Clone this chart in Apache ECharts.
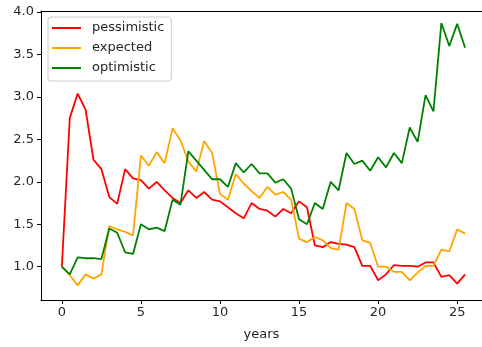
<!DOCTYPE html>
<html>
<head>
<meta charset="utf-8">
<script src="https://cdn.jsdelivr.net/npm/echarts@6/dist/echarts.min.js"></script>
<style>html,body{margin:0;padding:0;background:#fff;}#c{width:482px;height:347px;}</style>
</head>
<body>
<div id="c"></div>
<script>
const years = [0,0.5,1,1.5,2,2.5,3,3.5,4,4.5,5,5.5,6,6.5,7,7.5,8,8.5,9,9.5,10,10.5,11,11.5,12,12.5,13,13.5,14,14.5,15,15.5,16,16.5,17,17.5,18,18.5,19,19.5,20,20.5,21,21.5,22,22.5,23,23.5,24,24.5,25,25.5];
const pessimistic = [1.00,2.75,3.04,2.85,2.26,2.15,1.82,1.74,2.15,2.04,2.02,1.92,2.00,1.90,1.81,1.75,1.90,1.81,1.88,1.79,1.77,1.70,1.63,1.57,1.75,1.68,1.66,1.59,1.68,1.63,1.77,1.70,1.25,1.23,1.29,1.27,1.26,1.23,1.01,1.01,0.84,0.91,1.02,1.01,1.01,1.00,1.05,1.05,0.88,0.90,0.80,0.91];
const expected = [1.00,0.90,0.78,0.91,0.86,0.91,1.48,1.44,1.41,1.37,2.31,2.19,2.35,2.22,2.63,2.49,2.24,2.12,2.48,2.34,1.86,1.79,2.09,1.98,1.89,1.81,1.94,1.85,1.88,1.79,1.33,1.29,1.35,1.31,1.22,1.20,1.75,1.68,1.31,1.28,1.00,1.00,0.94,0.94,0.84,0.93,1.01,1.01,1.20,1.18,1.44,1.39];
const optimistic = [1.00,0.91,1.11,1.10,1.10,1.09,1.45,1.40,1.17,1.15,1.50,1.44,1.46,1.42,1.79,1.73,2.36,2.25,2.14,2.03,2.03,1.94,2.22,2.11,2.21,2.10,2.10,1.99,2.03,1.92,1.56,1.50,1.75,1.68,2.00,1.90,2.34,2.21,2.25,2.13,2.29,2.17,2.34,2.22,2.64,2.47,3.02,2.83,3.87,3.60,3.86,3.58];
const xTicks = [0,5,10,15,20,25];
const yTicks = [1.0,1.5,2.0,2.5,3.0,3.5,4.0];
const seriesNames = ['pessimistic','expected','optimistic'];
const seriesColors = ['#ff0000','#ffa500','#008000'];

const chart = echarts.init(document.getElementById('c'), null, {renderer:'canvas'});
const font = 'DejaVu Sans';
const txt = '#262626';
function pairs(vals){ return years.map((x,i)=>[x, vals[i]]); }
const datasets = [pessimistic, expected, optimistic];
chart.setOption({
  animation:false,
  backgroundColor:'#ffffff',
  grid:{left:41,top:11,right:-3,bottom:47},
  legend:{
    orient:'vertical',left:48,top:17,
    data:seriesNames,
    icon:'rect',itemWidth:29,itemHeight:2,itemGap:6,
    padding:[4,7,6,4],
    backgroundColor:'rgba(255,255,255,0.8)',
    borderColor:'#cccccc',borderWidth:1,borderRadius:3,
    textStyle:{fontFamily:font,fontSize:13,lineHeight:14,color:txt,padding:[0,0,0,6]}
  },
  xAxis:[{
    type:'value',min:-1.319,max:26.57,
    name:'years',nameLocation:'middle',nameGap:28,
    nameTextStyle:{fontFamily:font,fontSize:13,color:txt},
    splitLine:{show:false},
    axisLine:{show:true,onZero:false,lineStyle:{color:'#000',width:1}},
    axisTick:{show:true,length:4,lineStyle:{color:'#000'},customValues:xTicks},
    axisLabel:{fontFamily:font,fontSize:13,color:txt,margin:6,customValues:xTicks,formatter:v=>String(v)}
  },{
    type:'value',position:'top',min:-1.319,max:26.57,
    splitLine:{show:false},
    axisLine:{show:true,onZero:false,lineStyle:{color:'#000',width:1}},
    axisTick:{show:false},axisLabel:{show:false}
  }],
  yAxis:{
    type:'value',min:0.608,max:4.012,
    splitLine:{show:false},
    axisLine:{show:true,onZero:false,lineStyle:{color:'#000',width:1}},
    axisTick:{show:true,length:4,lineStyle:{color:'#000'},customValues:yTicks},
    axisLabel:{fontFamily:font,fontSize:13,color:txt,margin:7,customValues:yTicks,formatter:v=>Number(v).toFixed(1)}
  },
  series: seriesNames.map((n,k)=>({
    name:n,type:'line',data:pairs(datasets[k]),xAxisIndex:0,
    showSymbol:false,symbol:'none',
    lineStyle:{color:seriesColors[k],width:1.8},
    itemStyle:{color:seriesColors[k]}
  }))
});
</script>
</body>
</html>
